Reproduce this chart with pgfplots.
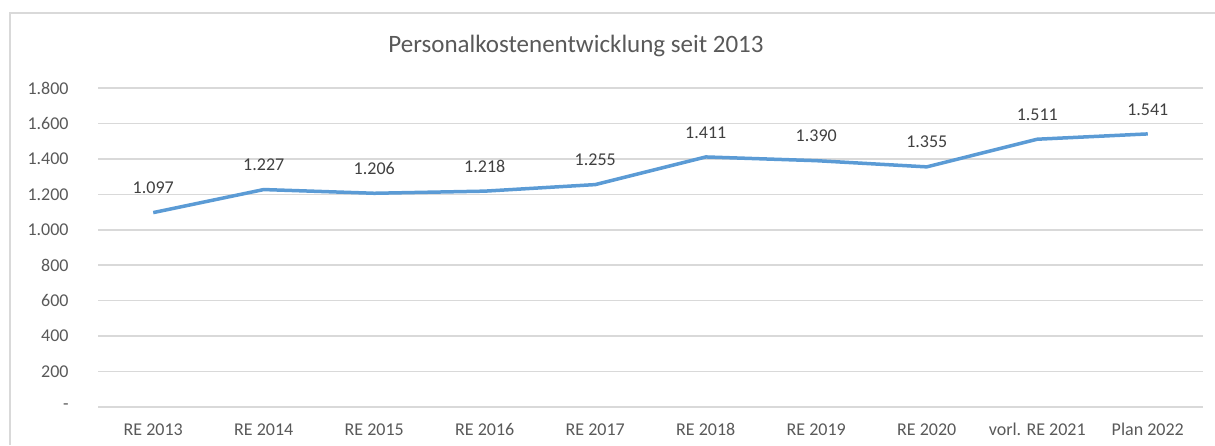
\documentclass[border=0pt]{standalone}
\usepackage{fontspec}
\setmainfont{Carlito}
\usepackage{pgfplots}
\pgfplotsset{compat=1.18}
\definecolor{linec}{HTML}{5B9BD5}
\definecolor{gridc}{HTML}{D9D9D9}
\definecolor{txt}{HTML}{595959}
\definecolor{lbl}{HTML}{404040}
\begin{document}
\begin{tikzpicture}
\useasboundingbox (0,0) rectangle (607.5pt,-222.5pt);
\draw[gridc, line width=1pt] (5pt,-222.5pt) -- (5pt,-6.5pt) -- (607.5pt,-6.5pt);
\node[txt, font=\fontsize{12.5}{15}\selectfont] at (288pt,-23pt) {Personalkostenentwicklung seit 2013};
\begin{axis}[
  at={(49pt,-203.5pt)}, anchor=south west,
  scale only axis, width=552.5pt, height=159.5pt,
  xmin=-0.5, xmax=9.5, ymin=0, ymax=1800,
  clip=false,
  axis line style={draw=none},
  tick style={draw=none},
  ymajorgrids, grid style={gridc, line width=0.75pt},
  ytick={0,200,...,1800},
  yticklabels={-,200,400,600,800,1.000,1.200,1.400,1.600,1.800},
  xtick={0,...,9},
  xticklabels={RE 2013,RE 2014,RE 2015,RE 2016,RE 2017,RE 2018,RE 2019,RE 2020,vorl. RE 2021,Plan 2022},
  ticklabel style={txt, font=\fontsize{9}{10}\selectfont},
  yticklabel style={inner sep=0pt, anchor=east},
  yticklabel shift=14.5pt,
  xticklabel style={inner sep=0pt, anchor=north},
  xticklabel shift=8pt,
]
\addplot[linec, line width=1.75pt, line join=round, mark=none,
  nodes near coords, point meta=explicit symbolic,
  every node near coord/.style={lbl, font=\fontsize{9}{10}\selectfont, anchor=south, inner sep=0pt, yshift=8.5pt}]
  table[meta=lab] {
x y lab
0 1097 1.097
1 1227 1.227
2 1206 1.206
3 1218 1.218
4 1255 1.255
5 1411 1.411
6 1390 1.390
7 1355 1.355
8 1511 1.511
9 1541 1.541
};
\end{axis}
\end{tikzpicture}
\end{document}
